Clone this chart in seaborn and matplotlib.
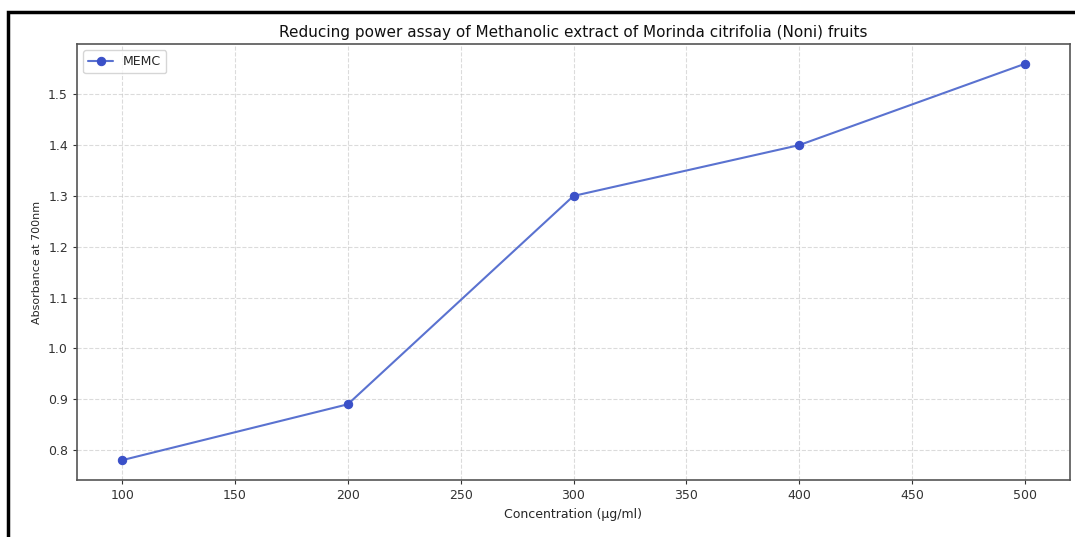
import matplotlib
matplotlib.use("Agg")
import matplotlib.pyplot as plt
from matplotlib.patches import Rectangle
import seaborn as sns
import pandas as pd

concentration = [100, 200, 300, 400, 500]
absorbance = [0.78, 0.89, 1.30, 1.40, 1.56]
series_name = "MEMC"

sns.set_style("white")
plt.rcParams["font.family"] = ["DejaVu Sans"]

df = pd.DataFrame({"Concentration": concentration, "Absorbance": absorbance})

fig = plt.figure(figsize=(10.75, 5.37), dpi=100)
ax = fig.add_axes([77 / 1075, 1 - 480 / 537, (1070 - 77) / 1075, (480 - 44) / 537])

sns.lineplot(data=df, x="Concentration", y="Absorbance", marker="o",
             color="#4a62d8", linewidth=1.5, markersize=6,
             markeredgecolor="#3a50c8", markerfacecolor="#3a50c8",
             label=series_name, ax=ax)
ax.lines[0].set_color("#5a72d0")

ax.grid(True, linestyle="--", color="#c4c4c4", alpha=0.6, linewidth=0.8)
ax.set_title("Reducing power assay of Methanolic extract of Morinda citrifolia (Noni) fruits",
             fontsize=11, pad=5, color="#111111")
ax.set_xlabel("Concentration (µg/ml)", fontsize=9)
ax.set_ylabel("Absorbance at 700nm", fontsize=8)
ax.tick_params(axis="both", labelsize=9, colors="#333333", length=3, direction="out",
               bottom=True, left=True)
for s in ax.spines.values():
    s.set_color("#555555")
    s.set_linewidth(1.2)
ax.legend(loc="upper left", fontsize=9, frameon=True)

# outer frame around the figure
fig.patches.append(Rectangle((8 / 1075, -0.1), 1.2, 1 - 12 / 537 + 0.1,
                             transform=fig.transFigure, fill=False,
                             edgecolor="black", linewidth=2.5))

fig.savefig("out.png", dpi=100)
